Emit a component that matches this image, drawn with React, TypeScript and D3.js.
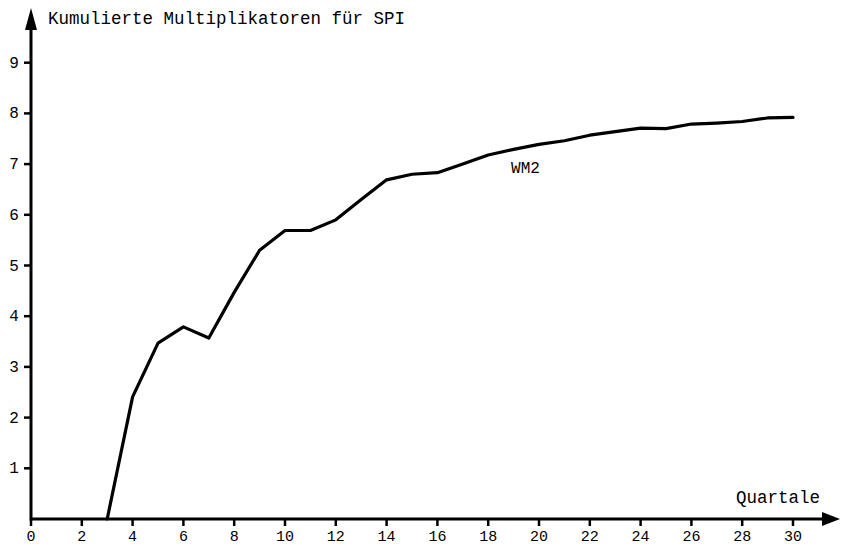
import React from "react";
import * as d3 from "d3";

const quarters = [3, 4, 5, 6, 7, 8, 9, 10, 11, 12, 13, 14, 15, 16, 17, 18, 19, 20, 21, 22, 23, 24, 25, 26, 27, 28, 29, 30];
const wm2 = [0, 2.41, 3.47, 3.79, 3.57, 4.47, 5.3, 5.69, 5.69, 5.9, 6.3, 6.69, 6.8, 6.83, 7.0, 7.18, 7.29, 7.39, 7.46, 7.57, 7.64, 7.71, 7.7, 7.79, 7.81, 7.84, 7.91, 7.92];
const xTicks = [0, 2, 4, 6, 8, 10, 12, 14, 16, 18, 20, 22, 24, 26, 28, 30];
const yTicks = [1, 2, 3, 4, 5, 6, 7, 8, 9];
const title = "Kumulierte Multiplikatoren für SPI";
const xTitle = "Quartale";
const seriesLabel = "WM2";

export default function App() {
  const W = 841, H = 547;
  const x = d3.scaleLinear().domain([0, 30]).range([31, 793]);
  const y = d3.scaleLinear().domain([0, 9]).range([519, 62.7]);
  const line = d3.line<number>().x((_, i) => x(quarters[i])).y((d) => y(d));
  const font = "'Liberation Mono', 'DejaVu Sans Mono', monospace";
  const x0 = x(0), y0 = y(0);
  return (
    <svg width={W} height={H} style={{ position: "absolute", left: 0, top: 0, background: "#fff" }}>
      {/* axes */}
      <line x1={x0} y1={y0} x2={822} y2={y0} stroke="#000" strokeWidth={3} />
      <path d={`M ${822} ${y0 - 7} L 840 ${y0} L ${822} ${y0 + 7} Z`} fill="#000" />
      <line x1={x0} y1={y0 + 1.5} x2={x0} y2={28} stroke="#000" strokeWidth={3} />
      <path d={`M ${x0 - 6} 30 L ${x0} 8 L ${x0 + 6} 30 Z`} fill="#000" />
      {xTicks.map((t) => (
        <g key={"x" + t}>
          <line x1={x(t)} x2={x(t)} y1={y0} y2={y0 + 7} stroke="#000" strokeWidth={2.5} />
          <text x={x(t)} y={541} textAnchor="middle" fontFamily={font} fontSize={15} fill="#000">
            {t}
          </text>
        </g>
      ))}
      {yTicks.map((t) => (
        <g key={"y" + t}>
          <line x1={x0 - 7} x2={x0} y1={y(t)} y2={y(t)} stroke="#000" strokeWidth={2.5} />
          <text x={14} y={y(t) + 5} textAnchor="middle" fontFamily={font} fontSize={16} fill="#000">
            {t}
          </text>
        </g>
      ))}
      <text x={48} y={24} fontFamily={font} fontSize={17.5} fill="#000">{title}</text>
      <text x={736} y={503} fontFamily={font} fontSize={17.5} fill="#000">{xTitle}</text>
      <path d={line(wm2) || ""} fill="none" stroke="#000" strokeWidth={3.2} strokeLinejoin="round" strokeLinecap="round" />
      <text x={x(18.9)} y={173} fontFamily={font} fontSize={16} fill="#000">{seriesLabel}</text>
    </svg>
  );
}
